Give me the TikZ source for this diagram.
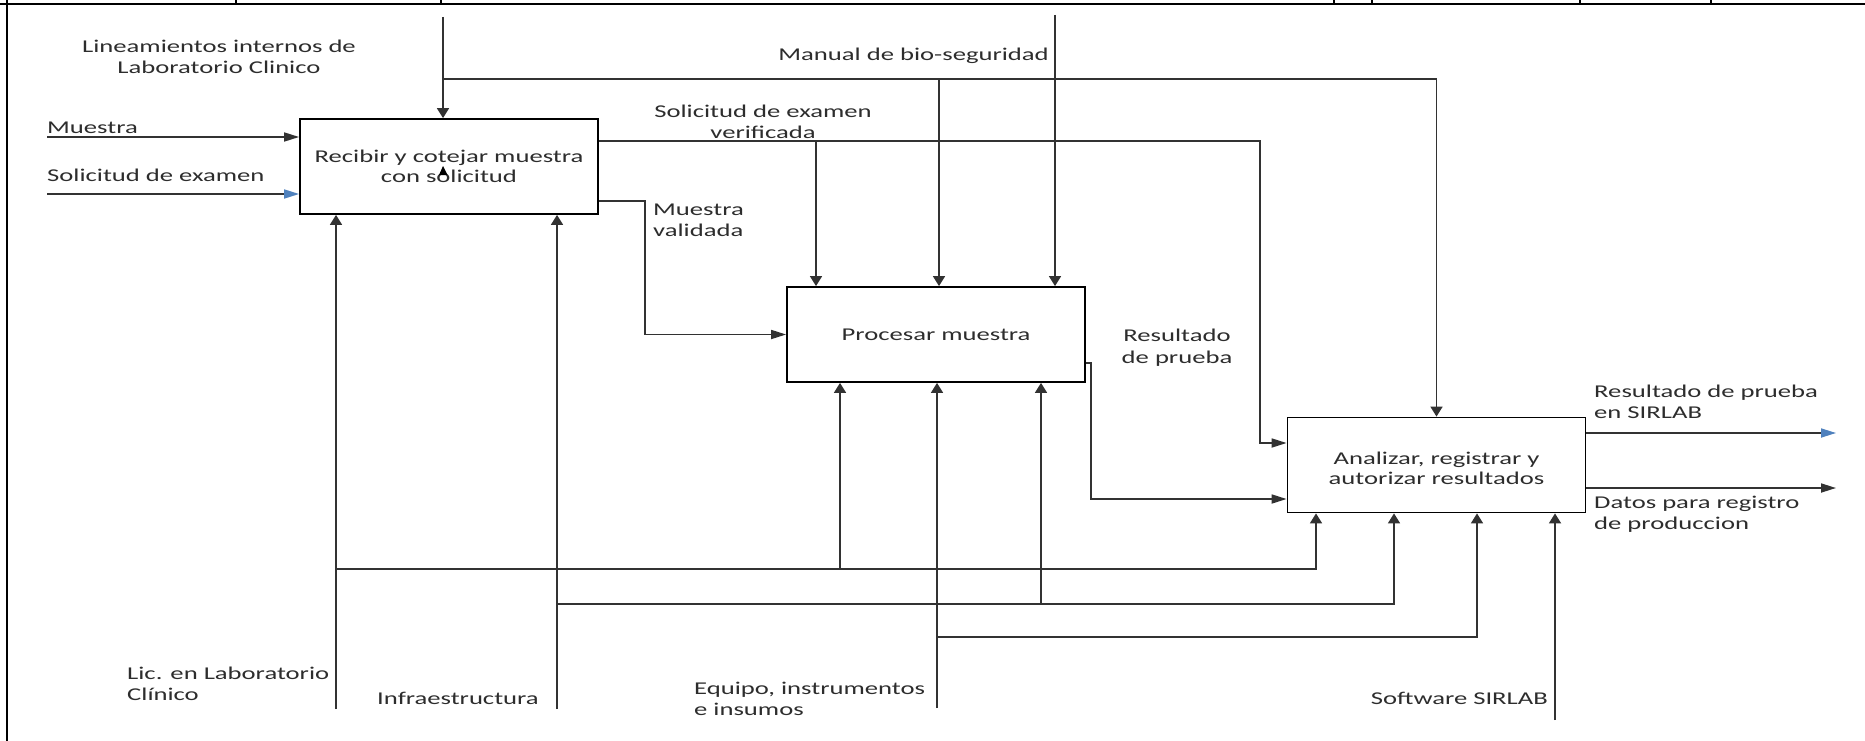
\documentclass[tikz,border=0pt]{standalone}
\usepackage{fontspec}
\usetikzlibrary{arrows.meta}
\newfontfamily\lab[FakeStretch=1.48]{Carlito}
\definecolor{arrblue}{RGB}{79,129,189}
\definecolor{linec}{RGB}{50,50,50}
\definecolor{txtc}{RGB}{45,45,45}
\tikzset{
  conn/.style={draw=linec, line width=1.7pt},
  varr/.style={conn, -{Triangle[length=10pt,width=12pt]}},
  harr/.style={conn, -{Triangle[length=15pt,width=9pt]}},
  harrblue/.style={conn, -{Triangle[length=15pt,width=9pt,color=arrblue,fill=arrblue]}},
  frameline/.style={draw=black, line width=2.4pt},
  box/.style={draw=black, line width=1.8pt, minimum width=298pt, minimum height=95pt,
    inner sep=0pt, align=center, text=txtc, font=\lab\fontsize{18}{20}\selectfont},
  lbl/.style={inner sep=0pt, text=txtc, font=\lab\fontsize{18}{21}\selectfont}
}
\begin{document}
\begin{tikzpicture}[x=1pt,y=-1pt]
\useasboundingbox (0,0) rectangle (1865,741);
\fill[white] (0,0) rectangle (1865,741);
% frame
\draw[frameline] (7,0) -- (7,741);
\draw[frameline] (0,4) -- (1865,4);
\foreach \tx in {236,441,1334,1372,1580,1711}{\draw[frameline] (\tx,0) -- (\tx,4);}
% boxes
\node[box] (A) at (449,166.5) {Recibir y cotejar muestra\\con solicitud};
\node[box] (B) at (936,334.5) {Procesar muestra};
\node[box, text height=40pt] (C) at (1436.5,465) {Analizar, registrar y\\autorizar resultados};
\fill[black] (439,175) -- (447.5,175) -- (443,166) -- cycle;
% labels
\node[lbl, align=center] (lin) at (219,57) {Lineamientos internos de\\Laboratorio Clinico};
\node[lbl, anchor=base west] (mue) at (47,134) {Muestra};
\node[lbl, anchor=base west] (sol) at (47,181) {Solicitud de examen};
\node[lbl, align=center] (sov) at (763,122) {Solicitud de examen\\verificada};
\node[lbl, align=left, anchor=west] (mva) at (653,220) {Muestra\\validada};
\node[lbl, anchor=base east] (man) at (1049,61) {Manual de bio-seguridad};
\node[lbl, align=center, font=\lab\fontsize{18}{22}\selectfont] (rpr) at (1177,348) {Resultado\\de prueba};
\node[lbl, align=left, anchor=west] (rsi) at (1594,402) {Resultado de prueba\\en SIRLAB};
\node[lbl, align=left, anchor=west] (dat) at (1594,514) {Datos para registro\\de produccion};
\node[lbl, align=left, anchor=west] (lic) at (127,684) {Lic. en Laboratorio\\Clínico};
\node[lbl, anchor=base west] (inf) at (377,704) {Infraestructura};
\node[lbl, align=left, anchor=west] (equ) at (694,699) {Equipo, instrumentos\\e insumos};
\node[lbl, anchor=base east] (sof) at (1548,704) {Software SIRLAB};
% reference coordinates
\coordinate (linS) at (443,17);
\coordinate (linJ) at (443,79);
\coordinate (linB) at (939,79);
\coordinate (manS) at (1055,15);
\coordinate (ySV) at (0,141);
\coordinate (xSV) at (1260,0);
\coordinate (ySVin) at (0,443);
\coordinate (xSVB) at (816,0);
\coordinate (yMV) at (0,201);
\coordinate (xMV) at (645,0);
\coordinate (yRP) at (0,363);
\coordinate (xRP) at (1091,0);
\coordinate (yRPin) at (0,499);
\coordinate (xOut) at (1836,0);
\coordinate (yO1) at (0,433);
\coordinate (yO2) at (0,488);
\coordinate (mS) at (47,137);
\coordinate (sS) at (47,194);
\coordinate (licS) at (336,709);
\coordinate (licJ) at (336,569);
\coordinate (licB) at (840,569);
\coordinate (infS) at (557,709);
\coordinate (infJ) at (557,604);
\coordinate (infB) at (1041,604);
\coordinate (eqS) at (937,708);
\coordinate (eqJ) at (937,637);
\coordinate (swS) at (1555,720);
\coordinate (xC1) at (1316,0);
\coordinate (xC2) at (1394,0);
\coordinate (xC3) at (1477,0);
% controls
\draw[varr] (linS) -- (linS |- A.north);
\draw[varr] (linJ) -| (C.north);
\draw[varr] (linB) -- (linB |- B.north);
\draw[varr] (manS) -- (manS |- B.north);
% inputs
\draw[harr] (mS) -- (mS -| A.west);
\draw[harrblue] (sS) -- (sS -| A.west);
% A outputs
\draw[harr] (A.east |- ySV) -- (xSV |- ySV) -- (xSV |- ySVin) -- (C.west |- ySVin);
\draw[varr] (xSVB |- ySV) -- (xSVB |- B.north);
\draw[harr] (A.east |- yMV) -- (xMV |- yMV) |- (B.west);
% B output
\draw[harr] (B.east |- yRP) -- (xRP |- yRP) |- (C.west |- yRPin);
% C outputs
\draw[harrblue] (C.east |- yO1) -- (xOut |- yO1);
\draw[harr] (C.east |- yO2) -- (xOut |- yO2);
% mechanisms
\draw[varr] (licS) -- (licS |- A.south);
\draw[varr] (licJ) -- (xC1 |- licJ) -- (xC1 |- C.south);
\draw[varr] (licB) -- (licB |- B.south);
\draw[varr] (infS) -- (infS |- A.south);
\draw[varr] (infJ) -- (xC2 |- infJ) -- (xC2 |- C.south);
\draw[varr] (infB) -- (infB |- B.south);
\draw[varr] (eqS) -- (eqS |- B.south);
\draw[varr] (eqJ) -- (xC3 |- eqJ) -- (xC3 |- C.south);
\draw[varr] (swS) -- (swS |- C.south);
\end{tikzpicture}
\end{document}
